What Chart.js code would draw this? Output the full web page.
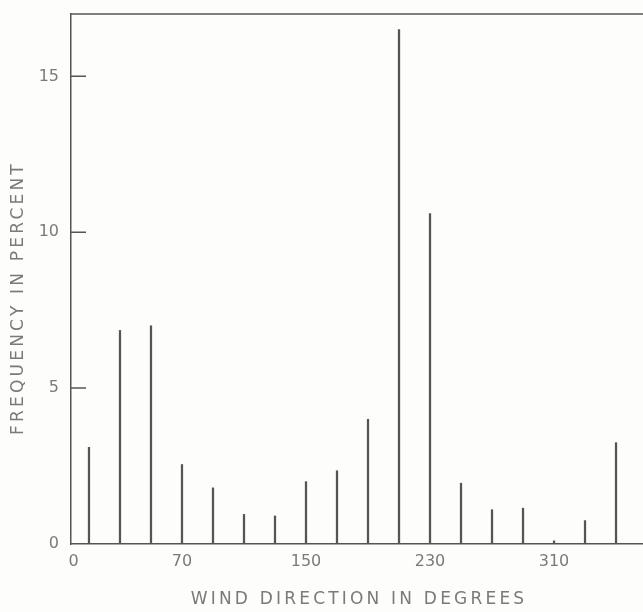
<!DOCTYPE html>
<html>
<head>
<meta charset="utf-8">
<script src="https://cdn.jsdelivr.net/npm/chart.js@4.4.1/dist/chart.umd.min.js"></script>
<style>
  html, body { margin: 0; padding: 0; background: #fdfdfc; }
  #wrap { width: 643px; height: 612px; }
</style>
</head>
<body>
<div id="wrap"><canvas id="chart" width="643" height="612"></canvas></div>
<script>
// Wind direction (degrees) and frequency (percent)
const directions = [10, 30, 50, 70, 90, 110, 130, 150, 170, 190, 210, 230, 250, 270, 290, 310, 330, 350];
const frequency = [3.1, 6.85, 7.0, 2.55, 1.8, 0.95, 0.9, 2.0, 2.35, 4.0, 16.5, 10.6, 1.95, 1.1, 1.15, 0.1, 0.75, 3.25];
const xTicks = [0, 70, 150, 230, 310];
const yTicks = [0, 5, 10, 15];
const xTitle = 'WIND DIRECTION IN DEGREES';
const yTitle = 'FREQUENCY IN PERCENT';

const lineColor = '#555';
const textColor = '#7a7a7a';
const titleFont = '17px "DejaVu Sans"';

// Top frame line, inward y tick marks and the spaced-out axis titles
const framePlugin = {
  id: 'frame',
  afterDraw(chart) {
    const { ctx, chartArea } = chart;
    const y = chart.scales.y;
    ctx.save();
    ctx.strokeStyle = lineColor;
    ctx.lineWidth = 1.5;
    ctx.beginPath();
    ctx.moveTo(chartArea.left, chartArea.top);
    ctx.lineTo(chartArea.right, chartArea.top);
    yTicks.slice(1).forEach(v => {
      const py = y.getPixelForValue(v);
      ctx.moveTo(chartArea.left, py);
      ctx.lineTo(chartArea.left + 15, py);
    });
    ctx.stroke();

    ctx.fillStyle = textColor;
    ctx.font = titleFont;
    ctx.letterSpacing = '3.2px';
    ctx.textAlign = 'center';
    ctx.textBaseline = 'middle';
    ctx.fillText(xTitle, (chartArea.left + chartArea.right) / 2 + 2, chart.height - 12);
    ctx.translate(19, (chartArea.top + chartArea.bottom) / 2 + 19);
    ctx.rotate(-Math.PI / 2);
    ctx.fillText(yTitle, 0, 0);
    ctx.restore();
  },
};

const noEdgePadding = scale => {
  scale.paddingTop = 0;
  scale.paddingBottom = 0;
  scale.paddingLeft = 0;
  scale.paddingRight = 0;
};

new Chart(document.getElementById('chart'), {
  type: 'bar',
  data: {
    datasets: [{
      data: directions.map((d, i) => ({ x: d, y: frequency[i] })),
      backgroundColor: lineColor,
      barThickness: 1.6,
    }],
  },
  options: {
    responsive: false,
    animation: false,
    layout: { padding: { top: 14, right: 0, left: 0, bottom: 0 } },
    plugins: {
      legend: { display: false },
      tooltip: { enabled: false },
    },
    scales: {
      x: {
        type: 'linear',
        offset: false,
        min: -1.6,
        max: 367.4,
        afterBuildTicks: scale => { scale.ticks = xTicks.map(v => ({ value: v })); },
        afterFit: scale => { scale.height = 68; noEdgePadding(scale); },
        grid: { display: true, offset: false, drawOnChartArea: false, drawTicks: false },
        border: { display: true, color: lineColor, width: 1.5 },
        ticks: {
          padding: 8,
          color: textColor,
          font: { family: 'DejaVu Sans', size: 16 },
          maxRotation: 0,
        },
      },
      y: {
        min: 0,
        max: 17,
        afterBuildTicks: scale => { scale.ticks = yTicks.map(v => ({ value: v })); },
        afterFit: scale => { scale.width = 71; noEdgePadding(scale); },
        grid: { display: true, drawOnChartArea: false, drawTicks: false },
        border: { display: true, color: lineColor, width: 1.5 },
        ticks: {
          padding: 12,
          color: textColor,
          font: { family: 'DejaVu Sans', size: 16 },
        },
      },
    },
  },
  plugins: [framePlugin],
});
</script>
</body>
</html>
